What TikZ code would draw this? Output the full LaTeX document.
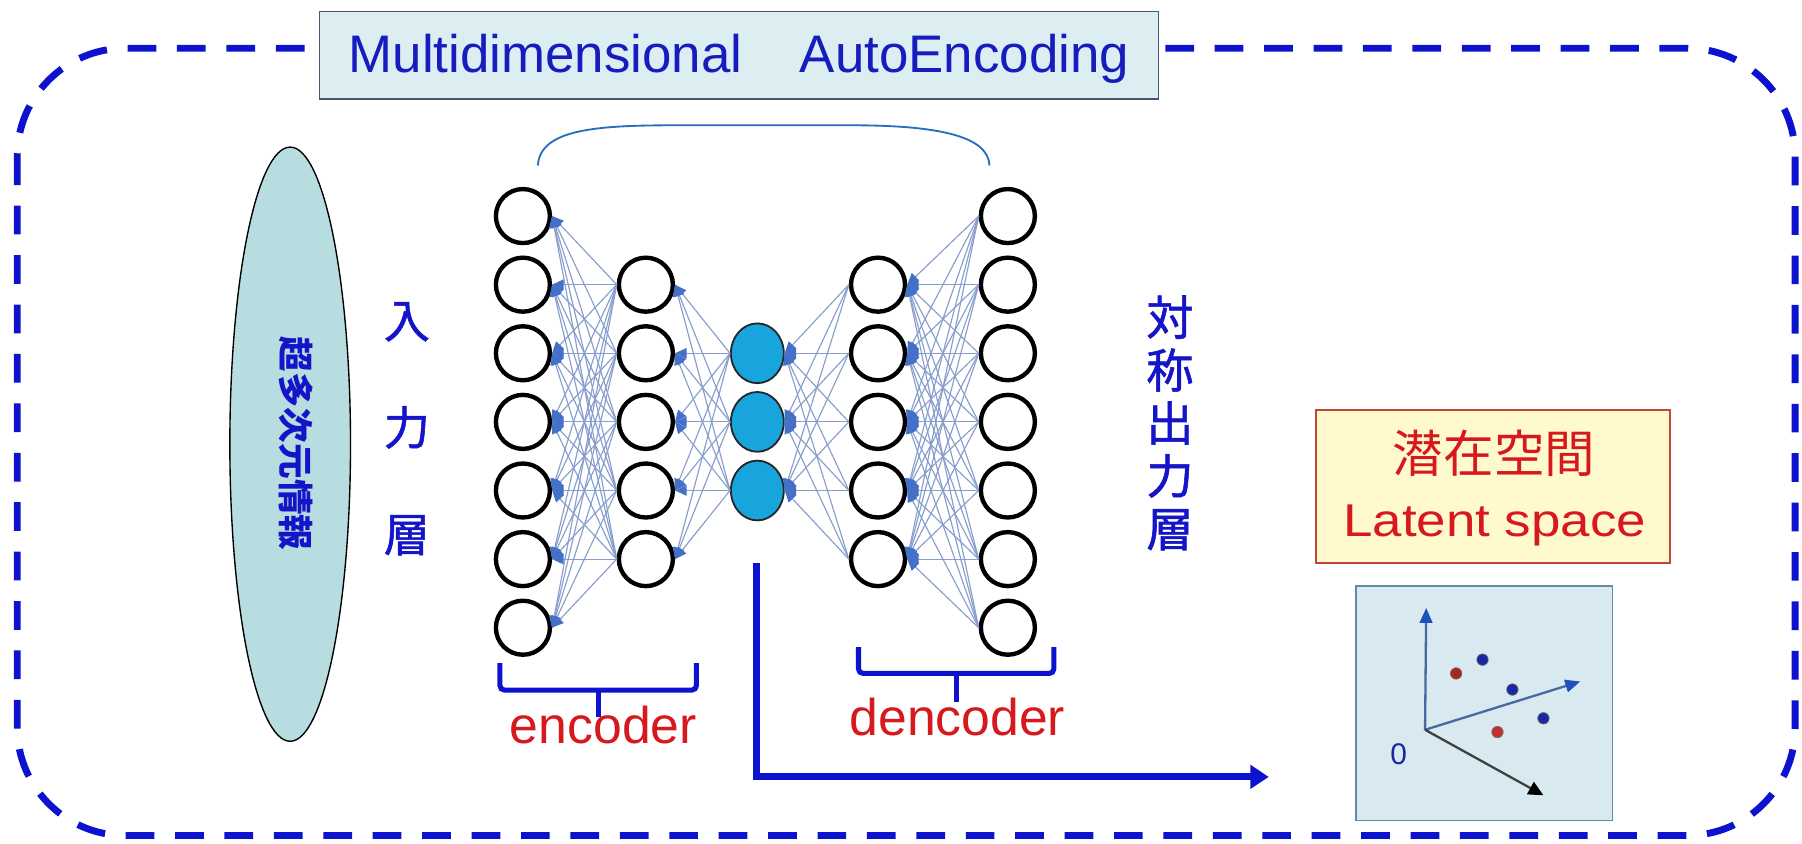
\documentclass[tikz,border=0pt]{standalone}
\usepackage{fontspec}
\setmainfont{Liberation Sans}
\newfontfamily\cjk{Noto Sans CJK JP}
\newfontfamily\cjkheavy[FakeBold=1.2]{Noto Sans CJK JP}
\usetikzlibrary{arrows.meta,shapes.geometric}

\definecolor{frameblue}{RGB}{12,18,205}
\definecolor{titlefill}{RGB}{221,238,243}
\definecolor{titledraw}{RGB}{72,86,112}
\definecolor{titleink}{RGB}{22,28,190}
\definecolor{ellfill}{RGB}{184,221,225}
\definecolor{labelblue}{RGB}{20,20,200}
\definecolor{nodecyan}{RGB}{24,165,222}
\definecolor{linkc}{RGB}{135,158,205}
\definecolor{tipc}{RGB}{68,112,200}
\definecolor{arcblue}{RGB}{40,110,190}
\definecolor{codered}{RGB}{215,25,30}
\definecolor{latfill}{RGB}{255,250,206}
\definecolor{latdraw}{RGB}{192,70,60}
\definecolor{plotfill}{RGB}{216,234,240}
\definecolor{plotdraw}{RGB}{95,140,160}
\definecolor{axisblue}{RGB}{70,105,160}
\definecolor{axistip}{RGB}{30,80,190}
\definecolor{dotred}{RGB}{200,45,45}
\definecolor{dotblue}{RGB}{25,40,160}

\begin{document}
\begin{tikzpicture}[x=0.5pt,y=-0.5pt,
  frame/.style={draw=frameblue, line width=3pt, dash pattern=on 12.5pt off 9pt, rounded corners=47pt},
  titlebox/.style={rectangle, fill=titlefill, draw=titledraw, line width=0.8pt, minimum width=365pt, minimum height=38pt, inner sep=0pt},
  neuron/.style={circle, draw=black, line width=1.9pt, fill=white, minimum size=23.5pt, inner sep=0pt},
  codeunit/.style={ellipse, draw=black!85, line width=0.8pt, fill=nodecyan, minimum width=23pt, minimum height=26pt, inner sep=0pt},
  conn/.style={draw=linkc, line width=0.5pt, -{Triangle[length=5pt,width=4.5pt,color=tipc]}},
  arcline/.style={draw=arcblue, line width=0.8pt},
  brk/.style={draw=frameblue, line width=2.2pt, rounded corners=2pt},
  bigarrow/.style={draw=frameblue, line width=3pt, -{Triangle[length=8pt,width=10pt]}},
  cjklabel/.style={align=center, text=labelblue, inner sep=0pt},
  redtext/.style={text=codered, inner sep=0pt},
  axisline/.style={draw=axisblue, line width=1pt, -{Triangle[length=6.5pt,width=5.5pt,color=axistip]}},
  dot/.style={circle, minimum size=5pt, inner sep=0pt, draw=black!55, line width=0.3pt}
]
\useasboundingbox (0,0) rectangle (1568,734);

% dashed outer frame
\draw[frame] (15,42) rectangle (1562,727);

% heading
\node[titlebox] (title) at (643,48) {};
\node[anchor=base, text=titleink, inner sep=0pt, font={\fontsize{23}{27}\selectfont}] (titletxt) at (643,63.5) {Multidimensional\hspace{25pt}AutoEncoding};

% high-dimensional input blob
\node[ellipse, draw=black, line width=0.6pt, fill=ellfill, minimum width=52.5pt, minimum height=258.5pt, inner sep=0pt] (info) at (252.5,386.5) {};
\node[rotate=-90, text=labelblue, inner sep=0pt, font={\cjk\bfseries\fontsize{15.5}{16}\selectfont}] (infotxt) at (258,386) {超多次元情報};

% layer labels
\node[cjklabel, font={\cjkheavy\fontsize{20}{46.5}\selectfont}] (inlbl) at (354,373) {入\\力\\層};
\node[cjklabel, font={\cjkheavy\fontsize{20.5}{23}\selectfont}] (outlbl) at (1018,368) {対\\称\\出\\力\\層};

% network layers
\foreach \r in {1,...,7} \node[neuron] (a\r) at (455,{188+59.7*(\r-1)}) {};
\foreach \r in {2,...,6} \node[neuron] (b\r) at (562,{188+59.7*(\r-1)}) {};
\foreach \r in {3,4,5} \node[codeunit] (c\r) at (659,{188+59.7*(\r-1)}) {};
\foreach \r in {2,...,6} \node[neuron] (d\r) at (764,{188+59.7*(\r-1)}) {};
\foreach \r in {1,...,7} \node[neuron] (e\r) at (877,{188+59.7*(\r-1)}) {};

% full connections between neighbouring layers
\foreach \i in {1,...,7} \foreach \j in {2,...,6} \draw[conn] (b\j.west) -- (a\i.east);
\foreach \i in {2,...,6} \foreach \j in {3,4,5} \draw[conn] (c\j.west) -- (b\i.east);
\foreach \i in {3,4,5} \foreach \j in {2,...,6} \draw[conn] (d\j.west) -- (c\i.east);
\foreach \i in {2,...,6} \foreach \j in {1,...,7} \draw[conn] (e\j.west) -- (d\i.east);

% arc over the network
\coordinate (arcL) at (468,144);
\coordinate (arcR) at (861,144);
\draw[arcline] (arcL) .. controls (470,112) and (520,109) .. (590,109) -- (740,109) .. controls (815,109) and (860,118) .. (arcR);

% brackets and their labels
\draw[brk] (435,577) |- (606,600.5) -- (606,577);
\draw[brk] (520.5,600.5) -- (520.5,624);
\node[anchor=base, redtext, font={\fontsize{22.5}{26}\selectfont}] (enc) at (525,647) {encoder};
\draw[brk] (747,563) |- (917,586) -- (917,563);
\draw[brk] (832,586) -- (832,611);
\node[anchor=base, redtext, font={\fontsize{22.5}{26}\selectfont}] (dec) at (833,640) {dencoder};

% flow from the code layer to the latent space
\coordinate (flowtop) at (658,490);
\coordinate (flowend) at (1104,676);
\draw[bigarrow] (flowtop) |- (flowend);

% latent space caption
\node[draw=latdraw, fill=latfill, line width=0.8pt, minimum width=154pt, minimum height=66.5pt, inner sep=0pt] (latent) at (1299,423.5) {};
\node[redtext, font={\cjk\fontsize{22}{24}\selectfont}] (latjp) at (1300,394.5) {潜在空間};
\node[anchor=base, redtext, xscale=1.15, font={\fontsize{20}{24}\selectfont}] (laten) at (1300.5,467) {Latent space};

% latent space plot
\node[draw=plotdraw, fill=plotfill, line width=0.6pt, minimum width=111.5pt, minimum height=102pt, inner sep=0pt] (plot) at (1291.5,612) {};
\coordinate (o) at (1240,635);
\coordinate (ytip) at (1241,529);
\coordinate (xtip) at (1375,593);
\coordinate (ztip) at (1343,692);
\draw[axisline] (o) -- (ytip);
\draw[axisline] (o) -- (xtip);
\draw[draw=black!75, line width=1pt, -{Triangle[length=6.5pt,width=6pt,color=black]}] (o) -- (ztip);
\node[text=dotblue, inner sep=0pt, font={\fontsize{13}{14}\selectfont}] (zero) at (1217,656) {0};
\node[dot, fill=dotred!85!black] (p1) at (1267,586) {};
\node[dot, fill=dotblue] (p2) at (1290,574) {};
\node[dot, fill=dotblue] (p3) at (1316,600) {};
\node[dot, fill=dotblue] (p4) at (1343,625) {};
\node[dot, fill=dotred] (p5) at (1303,637) {};
\end{tikzpicture}
\end{document}
